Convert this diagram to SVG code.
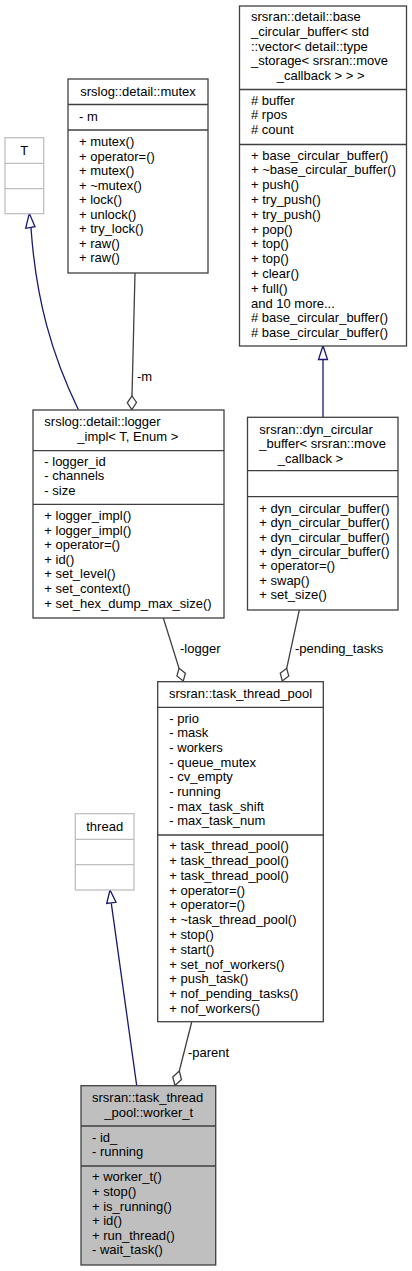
<svg xmlns="http://www.w3.org/2000/svg" width="412" height="1271" viewBox="0 0 412 1271">
<style>
text{font-family:"Liberation Sans",Arial,sans-serif;font-size:13px;fill:#000}
.c{text-anchor:middle}
.box{fill:#fff;stroke:#404040;stroke-width:1.3}
.gbox{fill:#fff;stroke:#bfbfbf;stroke-width:1.3}
.sel{fill:#bfbfbf;stroke:#404040;stroke-width:1.3}
.sep{stroke:#404040;stroke-width:1.3}
.gsep{stroke:#bfbfbf;stroke-width:1.3}
.inh{fill:none;stroke:#191970;stroke-width:1.3}
.inhh{fill:#fff;stroke:#191970;stroke-width:1.3}
.comp{fill:none;stroke:#404040;stroke-width:1.3}
.comph{fill:#fff;stroke:#404040;stroke-width:1.3}
</style>
<rect width="412" height="1271" fill="#fff"/>
<g id="connectors">
<path class="inh" d="M31,228 C36,300 52,355 78.3,409.5"/>
<polygon class="inhh" points="29.3,213.3 25.7,228.3 35,226.7"/>
<path class="inh" d="M323,359.5 L323,417.3"/>
<polygon class="inhh" points="323,345.7 318.5,359.5 327.5,359.5"/>
<path class="inh" d="M111.3,903.3 L136.7,1085.7"/>
<polygon class="inhh" points="110,890 106.7,903.5 116,902.3"/>
<path class="comp" d="M135,273 L132,396"/>
<polygon class="comph" points="132,396 136.5,402.5 131.8,409.5 127.3,402.8"/>
<text x="137" y="381">-m</text>
<path class="comp" d="M163.3,618 L179,668.3"/>
<polygon class="comph" points="179,668.3 185.4,673.2 183.3,681 176.9,676.1"/>
<text x="180" y="652.5">-logger</text>
<path class="comp" d="M299.3,610 L286.7,668.3"/>
<polygon class="comph" points="286.7,668.3 288.75,676.1 282.3,681 280.25,673.2"/>
<text x="295" y="652.5">-pending_tasks</text>
<path class="comp" d="M191.7,1022 L179.3,1071"/>
<polygon class="comph" points="179.3,1071 181.5,1079.5 175,1085.5 172.8,1077"/>
<text x="188" y="1057">-parent</text>
</g>
<g id="node_T">
<rect class="gbox" x="5" y="137.7" width="38.7" height="76"/>
<line class="gsep" x1="5" y1="163.3" x2="43.7" y2="163.3"/>
<line class="gsep" x1="5" y1="188.7" x2="43.7" y2="188.7"/>
<text class="c" x="24.3" y="154.5">T</text>
</g>
<g id="node_mutex">
<rect class="box" x="68" y="79" width="140" height="194"/>
<line class="sep" x1="68" y1="104.5" x2="208" y2="104.5"/>
<line class="sep" x1="68" y1="130" x2="208" y2="130"/>
<text class="c" x="138" y="95.5">srslog::detail::mutex</text>
<text x="79" y="121">- m</text>
<text x="79" y="146">+ mutex()</text>
<text x="79" y="160.5">+ operator=()</text>
<text x="79" y="175">+ mutex()</text>
<text x="79" y="189.5">+ ~mutex()</text>
<text x="79" y="204">+ lock()</text>
<text x="79" y="218.5">+ unlock()</text>
<text x="79" y="233">+ try_lock()</text>
<text x="79" y="247.5">+ raw()</text>
<text x="79" y="262">+ raw()</text>
</g>
<g id="node_base_circular_buffer">
<rect class="box" x="239.5" y="6" width="167" height="340"/>
<line class="sep" x1="239.5" y1="89.5" x2="406.5" y2="89.5"/>
<line class="sep" x1="239.5" y1="144.5" x2="406.5" y2="144.5"/>
<text x="251" y="21">srsran::detail::base</text>
<text x="251" y="35.8">_circular_buffer&lt; std</text>
<text x="251" y="50.6">::vector&lt; detail::type</text>
<text x="251" y="65.4">_storage&lt; srsran::move</text>
<text x="276.7" y="80.2">_callback &gt; &gt; &gt;</text>
<text x="251" y="104.5"># buffer</text>
<text x="251" y="119.2"># rpos</text>
<text x="251" y="134"># count</text>
<text x="251" y="159.5">+ base_circular_buffer()</text>
<text x="251" y="174.3">+ ~base_circular_buffer()</text>
<text x="251" y="189.1">+ push()</text>
<text x="251" y="203.9">+ try_push()</text>
<text x="251" y="218.7">+ try_push()</text>
<text x="251" y="233.5">+ pop()</text>
<text x="251" y="248.3">+ top()</text>
<text x="251" y="263.1">+ top()</text>
<text x="251" y="277.9">+ clear()</text>
<text x="251" y="292.7">+ full()</text>
<text x="251" y="307.5">and 10 more...</text>
<text x="251" y="322.3"># base_circular_buffer()</text>
<text x="251" y="337.1"># base_circular_buffer()</text>
</g>
<g id="node_logger_impl">
<rect class="box" x="33" y="410" width="191" height="208"/>
<line class="sep" x1="33" y1="450.7" x2="224" y2="450.7"/>
<line class="sep" x1="33" y1="504.3" x2="224" y2="504.3"/>
<text x="44.3" y="426">srslog::detail::logger</text>
<text x="77.3" y="440.5">_impl&lt; T, Enum &gt;</text>
<text x="44.3" y="465.5">- logger_id</text>
<text x="44.3" y="480">- channels</text>
<text x="44.3" y="494.5">- size</text>
<text x="44.3" y="520">+ logger_impl()</text>
<text x="44.3" y="534.6">+ logger_impl()</text>
<text x="44.3" y="549.2">+ operator=()</text>
<text x="44.3" y="563.8">+ id()</text>
<text x="44.3" y="578.4">+ set_level()</text>
<text x="44.3" y="593">+ set_context()</text>
<text x="44.3" y="607.6">+ set_hex_dump_max_size()</text>
</g>
<g id="node_dyn_circular_buffer">
<rect class="box" x="247.5" y="417.3" width="150.5" height="192.7"/>
<line class="sep" x1="247.5" y1="470.7" x2="398" y2="470.7"/>
<line class="sep" x1="247.5" y1="496.7" x2="398" y2="496.7"/>
<text x="259.3" y="433.5">srsran::dyn_circular</text>
<text x="259.3" y="448.3">_buffer&lt; srsran::move</text>
<text x="277.7" y="463.2">_callback &gt;</text>
<text x="259.3" y="512.7">+ dyn_circular_buffer()</text>
<text x="259.3" y="527.1">+ dyn_circular_buffer()</text>
<text x="259.3" y="541.5">+ dyn_circular_buffer()</text>
<text x="259.3" y="555.9">+ dyn_circular_buffer()</text>
<text x="259.3" y="570.3">+ operator=()</text>
<text x="259.3" y="584.7">+ swap()</text>
<text x="259.3" y="599.1">+ set_size()</text>
</g>
<g id="node_task_thread_pool">
<rect class="box" x="157.7" y="681.7" width="165.6" height="340"/>
<line class="sep" x1="157.7" y1="707.3" x2="323.3" y2="707.3"/>
<line class="sep" x1="157.7" y1="835" x2="323.3" y2="835"/>
<text class="c" x="240.5" y="697.5">srsran::task_thread_pool</text>
<text x="169.3" y="722.5">- prio</text>
<text x="169.3" y="737.2">- mask</text>
<text x="169.3" y="751.8">- workers</text>
<text x="169.3" y="766.5">- queue_mutex</text>
<text x="169.3" y="781.2">- cv_empty</text>
<text x="169.3" y="795.8">- running</text>
<text x="169.3" y="810.5">- max_task_shift</text>
<text x="169.3" y="825.2">- max_task_num</text>
<text x="169.3" y="850.2">+ task_thread_pool()</text>
<text x="169.3" y="865">+ task_thread_pool()</text>
<text x="169.3" y="879.8">+ task_thread_pool()</text>
<text x="169.3" y="894.6">+ operator=()</text>
<text x="169.3" y="909.4">+ operator=()</text>
<text x="169.3" y="924.2">+ ~task_thread_pool()</text>
<text x="169.3" y="939">+ stop()</text>
<text x="169.3" y="953.8">+ start()</text>
<text x="169.3" y="968.6">+ set_nof_workers()</text>
<text x="169.3" y="983.4">+ push_task()</text>
<text x="169.3" y="998.2">+ nof_pending_tasks()</text>
<text x="169.3" y="1013">+ nof_workers()</text>
</g>
<g id="node_thread">
<rect class="gbox" x="75.3" y="813.7" width="58.7" height="76.3"/>
<line class="gsep" x1="75.3" y1="839.3" x2="134" y2="839.3"/>
<line class="gsep" x1="75.3" y1="864.7" x2="134" y2="864.7"/>
<text class="c" x="104.7" y="830.5">thread</text>
</g>
<g id="node_worker_t">
<rect class="sel" x="81" y="1085.7" width="134.7" height="179.3"/>
<line class="sep" x1="81" y1="1126" x2="215.7" y2="1126"/>
<line class="sep" x1="81" y1="1166" x2="215.7" y2="1166"/>
<text x="92" y="1102">srsran::task_thread</text>
<text x="104.3" y="1116.5">_pool::worker_t</text>
<text x="92" y="1141.5">- id_</text>
<text x="92" y="1156">- running</text>
<text x="92" y="1181.3">+ worker_t()</text>
<text x="92" y="1195.9">+ stop()</text>
<text x="92" y="1210.5">+ is_running()</text>
<text x="92" y="1225.1">+ id()</text>
<text x="92" y="1239.7">+ run_thread()</text>
<text x="92" y="1254.3">- wait_task()</text>
</g>
</svg>
